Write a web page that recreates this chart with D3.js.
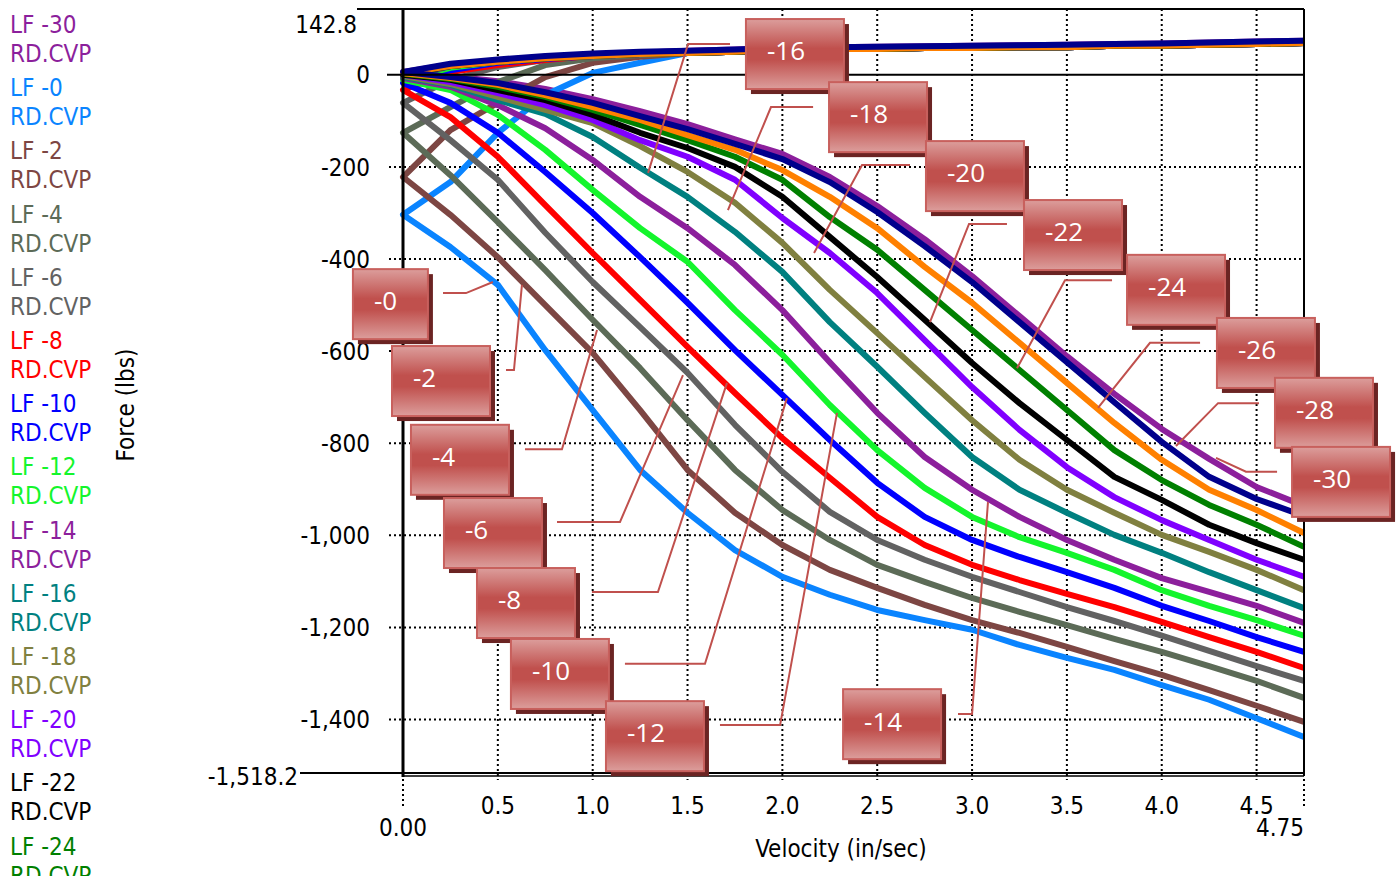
<!DOCTYPE html>
<html>
<head>
<meta charset="utf-8">
<script src="https://cdn.jsdelivr.net/npm/d3@7"></script>
<style>
  body { margin: 0; background: #fff; }
  svg text { font-family: "DejaVu Sans Condensed", "DejaVu Sans", sans-serif; font-stretch: condensed; }
</style>
</head>
<body>
<svg id="chart" width="1398" height="876"></svg>
<script>
// velocity steps (in/sec)
const velocity = [0, 0.25, 0.5, 0.75, 1.0, 1.25, 1.5, 1.75, 2.0, 2.25, 2.5, 2.75, 3.0, 3.25, 3.5, 3.75, 4.0, 4.25, 4.5, 4.75];

// upper (compression) branches share the same tail after 1.5 in/sec
const upperTail     = [47, 50, 54, 56, 56, 58, 58, 60, 60, 63, 63, 65, 67, 69];
const upperTailHigh = [52, 55, 58, 60, 61, 62, 63, 64, 65, 67, 68, 70, 72, 74];

// lower (rebound) branches, lbs
const lf0Lower  = [-304, -374, -456, -598, -728, -858, -951, -1032, -1090, -1129, -1162, -1184, -1205, -1238, -1266, -1292, -1325, -1357, -1397, -1438];
const lf2Lower  = [-222, -304, -396, -500, -604, -728, -858, -951, -1021, -1075, -1114, -1151, -1184, -1212, -1242, -1273, -1303, -1336, -1370, -1405];
const lf4Lower  = [-126, -218, -320, -424, -532, -637, -750, -858, -945, -1010, -1064, -1101, -1136, -1166, -1195, -1225, -1253, -1284, -1316, -1353];
const lf6Lower  = [-61, -142, -228, -343, -450, -548, -647, -760, -862, -949, -1010, -1053, -1090, -1123, -1156, -1186, -1218, -1251, -1284, -1316];
const lf8Lower  = [-33, -92, -178, -283, -387, -489, -591, -691, -789, -875, -960, -1021, -1064, -1097, -1127, -1156, -1188, -1221, -1253, -1288];
const lf10Lower = [-18, -61, -126, -211, -300, -396, -495, -598, -695, -793, -886, -960, -1010, -1047, -1080, -1114, -1153, -1186, -1221, -1253];
const lf12Lower = [-11, -33, -87, -163, -250, -333, -406, -511, -608, -717, -815, -897, -960, -1004, -1038, -1075, -1119, -1153, -1184, -1218];
const lf14Lower = [-7, -26, -66, -116, -185, -265, -333, -413, -511, -624, -734, -830, -901, -960, -1010, -1053, -1093, -1123, -1153, -1190];
const lf16Lower = [-5, -22, -55, -85, -135, -202, -265, -341, -428, -537, -634, -734, -830, -901, -951, -999, -1038, -1080, -1119, -1158];
const lf18Lower = [-3, -20, -48, -76, -105, -155, -211, -278, -365, -467, -561, -656, -750, -836, -901, -951, -999, -1036, -1075, -1119];
const lf20Lower = [0, -16, -40, -66, -98, -142, -178, -228, -311, -387, -474, -576, -678, -771, -852, -917, -967, -1010, -1053, -1090];
const lf22Lower = [0, -11, -33, -55, -87, -126, -159, -200, -265, -352, -439, -532, -626, -713, -793, -873, -923, -977, -1017, -1053];
const lf24Lower = [2, -9, -26, -48, -76, -109, -142, -178, -228, -309, -380, -467, -554, -641, -728, -815, -880, -934, -977, -1025];
const lf26Lower = [3, -7, -22, -44, -70, -98, -131, -163, -207, -265, -333, -417, -495, -582, -669, -756, -836, -901, -945, -995];
const lf28Lower = [6, -5, -18, -38, -61, -90, -118, -150, -183, -233, -298, -372, -450, -537, -624, -711, -797, -873, -921, -958];
const lf30Lower = [6, -3, -14, -31, -53, -79, -107, -140, -172, -222, -285, -357, -437, -524, -611, -693, -769, -834, -895, -936];

const lf0Upper  = [-304, -233, -126, -44, 4, 26, ...upperTail];
const lf2Upper  = [-222, -120, -61, -5, 26, 39, ...upperTail];
const lf4Upper  = [-126, -70, -16, 21, 36, 43, ...upperTail];
const lf6Upper  = [-61, -11, 17, 32, 41, 45, ...upperTail];
const lf8Upper  = [-33, 6, 21, 32, 41, 45, ...upperTail];
const lf10Upper = [-18, 10, 26, 34, 41, 45, ...upperTail];
const lf12Upper = [-11, 15, 28, 36, 41, 45, ...upperTail];
const lf14Upper = [-7, 19, 28, 36, 41, 45, ...upperTail];
const lf16Upper = [-5, 19, 28, 36, 41, 45, ...upperTail];
const lf18Upper = [-3, 19, 28, 36, 41, 45, ...upperTail];
const lf20Upper = [0, 19, 28, 36, 41, 45, ...upperTail];
const lf22Upper = [0, 19, 28, 36, 41, 45, ...upperTail];
const lf24Upper = [2, 19, 28, 36, 41, 45, ...upperTail];
const lf26Upper = [3, 19, 28, 36, 41, 45, ...upperTail];
const lf28Upper = [6, 24, 33, 41, 46, 50, ...upperTailHigh];
const lf30Upper = [6, 22, 31, 39, 44, 48, ...upperTailHigh];

// legend / drawing order
const seriesNames  = ["-30", "-0", "-2", "-4", "-6", "-8", "-10", "-12", "-14", "-16", "-18", "-20", "-22", "-24", "-26", "-28"];
const seriesColors = ["#8c1f9c", "#0a84ff", "#7d4643", "#5c6b57", "#626262", "#ff0000", "#0000ff", "#14f52c", "#8c1f9c", "#008080", "#808040", "#8000ff", "#000000", "#008000", "#ff8000", "#00008c"];
const seriesUpper  = [lf30Upper, lf0Upper, lf2Upper, lf4Upper, lf6Upper, lf8Upper, lf10Upper, lf12Upper, lf14Upper, lf16Upper, lf18Upper, lf20Upper, lf22Upper, lf24Upper, lf26Upper, lf28Upper];
const seriesLower  = [lf30Lower, lf0Lower, lf2Lower, lf4Lower, lf6Lower, lf8Lower, lf10Lower, lf12Lower, lf14Lower, lf16Lower, lf18Lower, lf20Lower, lf22Lower, lf24Lower, lf26Lower, lf28Lower];

const xTicks = [0.5, 1.0, 1.5, 2.0, 2.5, 3.0, 3.5, 4.0, 4.5];
const yTicks = [0, -200, -400, -600, -800, -1000, -1200, -1400];
const yMax = 142.8, yMin = -1518.2, xMax = 4.75;

// callout labels: text, box top-left (velocity, force), leader points (velocity, force)
const calloutText = ["-0", "-2", "-4", "-6", "-8", "-10", "-12", "-14", "-16", "-18", "-20", "-22", "-24", "-26", "-28", "-30"];
const calloutBox = [[-0.264, -422], [-0.058, -589], [0.042, -760], [0.216, -919], [0.390, -1071], [0.569, -1225], [1.070, -1360], [2.320, -1334],
                    [1.808, 121], [2.246, -16], [2.757, -144], [3.274, -272], [3.817, -391], [4.291, -528], [4.597, -658], [4.687, -808]];
const calloutLeader = [
  [[0.211, -474], [0.332, -474], [0.474, -450]],
  [[0.543, -641], [0.585, -641], [0.627, -456]],
  [[0.643, -813], [0.838, -813], [1.023, -554]],
  [[0.812, -971], [1.144, -971], [1.476, -652]],
  [[0.996, -1123], [1.344, -1123], [1.708, -669]],
  [[1.170, -1279], [1.592, -1279], [2.024, -702]],
  [[1.671, -1412], [1.988, -1412], [2.288, -734]],
  [[2.926, -1388], [3.000, -1388], [3.084, -928]],
  [[1.724, 67], [1.503, 67], [1.292, -213]],
  [[2.162, -70], [1.940, -70], [1.713, -294]],
  [[2.673, -196], [2.420, -196], [2.167, -387]],
  [[3.184, -324], [2.984, -324], [2.778, -537]],
  [[3.738, -446], [3.490, -446], [3.237, -637]],
  [[4.202, -582], [3.938, -582], [3.664, -723]],
  [[4.513, -713], [4.297, -713], [4.075, -806]],
  [[4.608, -862], [4.444, -862], [4.286, -832]]
];

const svg = d3.select("#chart");
const x = d3.scaleLinear().domain([0, xMax]).range([403, 1304]);
const y = d3.scaleLinear().domain([yMin, yMax]).range([774, 9]);

const defs = svg.append("defs");
const grad = defs.append("linearGradient").attr("id", "boxGrad").attr("x1", 0).attr("y1", 0).attr("x2", 0).attr("y2", 1);
grad.append("stop").attr("offset", "0%").attr("stop-color", "#dc9e9c");
grad.append("stop").attr("offset", "42%").attr("stop-color", "#c0504d");
grad.append("stop").attr("offset", "58%").attr("stop-color", "#c0504d");
grad.append("stop").attr("offset", "100%").attr("stop-color", "#dc9e9c");

// dotted grid
const dots = "2,3";
svg.append("g").selectAll("line").data(xTicks).enter().append("line")
  .attr("x1", d => x(d)).attr("x2", d => x(d))
  .attr("y1", y(yMax)).attr("y2", y(yMin) + 6)
  .attr("stroke", "#000").attr("stroke-width", 2).attr("stroke-dasharray", dots);
svg.append("g").selectAll("line").data(yTicks.slice(1)).enter().append("line")
  .attr("x1", x(0) - 14).attr("x2", x(xMax))
  .attr("y1", d => y(d)).attr("y2", d => y(d))
  .attr("stroke", "#000").attr("stroke-width", 2).attr("stroke-dasharray", dots);
svg.append("g").selectAll("line").data([0, xMax]).enter().append("line")
  .attr("x1", d => x(d)).attr("x2", d => x(d))
  .attr("y1", y(yMin)).attr("y2", y(yMin) + 32)
  .attr("stroke", "#000").attr("stroke-width", 2).attr("stroke-dasharray", dots);

// curves
const line = d3.line().x(d => x(d[0])).y(d => y(d[1])).curve(d3.curveLinear);
seriesNames.forEach((name, i) => {
  const up = velocity.map((v, k) => [v, seriesUpper[i][k]]).reverse();
  const lo = velocity.map((v, k) => [v, seriesLower[i][k]]).slice(1);
  svg.append("path")
    .datum(up.concat(lo))
    .attr("d", line)
    .attr("fill", "none")
    .attr("stroke", seriesColors[i])
    .attr("stroke-width", 6)
    .attr("stroke-linejoin", "round");
});

// frame and axes
const ax = svg.append("g").attr("stroke", "#000");
ax.append("line").attr("x1", 357).attr("x2", x(xMax)).attr("y1", y(yMax)).attr("y2", y(yMax)).attr("stroke-width", 2);
ax.append("line").attr("x1", x(xMax)).attr("x2", x(xMax)).attr("y1", y(yMax)).attr("y2", y(yMin)).attr("stroke-width", 2);
ax.append("line").attr("x1", 387).attr("x2", x(xMax)).attr("y1", y(0)).attr("y2", y(0)).attr("stroke-width", 2);
ax.append("line").attr("x1", 300).attr("x2", x(xMax)).attr("y1", y(yMin) - 1).attr("y2", y(yMin) - 1).attr("stroke-width", 2);
ax.append("line").attr("x1", x(0)).attr("x2", x(xMax)).attr("y1", y(yMin) + 2).attr("y2", y(yMin) + 2).attr("stroke-width", 1.5);
ax.append("line").attr("x1", x(0)).attr("x2", x(0)).attr("y1", y(yMax)).attr("y2", y(yMin) + 3).attr("stroke-width", 3);

// y tick labels (plain hyphen minus, as in the original)
const fmt = v => d3.format(",")(v).replace("\u2212", "-");
svg.append("g").selectAll("text").data(yTicks).enter().append("text")
  .attr("x", 370).attr("y", d => y(d)).attr("dy", "0.36em")
  .attr("text-anchor", "end").attr("font-size", 24)
  .text(d => fmt(d));
svg.append("text").attr("x", 357).attr("y", y(yMax) + 15).attr("dy", "0.36em")
  .attr("text-anchor", "end").attr("font-size", 24).text(fmt(yMax));
svg.append("text").attr("x", 298).attr("y", y(yMin) + 2).attr("dy", "0.36em")
  .attr("text-anchor", "end").attr("font-size", 24).text(fmt(yMin));

// x tick labels
svg.append("g").selectAll("text").data(xTicks).enter().append("text")
  .attr("x", d => x(d)).attr("y", 805).attr("dy", "0.36em")
  .attr("text-anchor", "middle").attr("font-size", 24)
  .text(d => d.toFixed(1));
svg.append("text").attr("x", x(0)).attr("y", 827).attr("dy", "0.36em")
  .attr("text-anchor", "middle").attr("font-size", 24).text("0.00");
svg.append("text").attr("x", x(xMax)).attr("y", 827).attr("dy", "0.36em")
  .attr("text-anchor", "end").attr("font-size", 24).text(xMax.toFixed(2));

// axis titles
svg.append("text").attr("x", 841).attr("y", 848).attr("dy", "0.36em")
  .attr("text-anchor", "middle").attr("font-size", 24).text("Velocity (in/sec)");
svg.append("text").attr("transform", "translate(125,405) rotate(-90)").attr("dy", "0.36em")
  .attr("text-anchor", "middle").attr("font-size", 24).text("Force (lbs)");

// callouts
const leader = d3.line().x(d => x(d[0])).y(d => y(d[1]));
const call = svg.append("g");
calloutText.forEach((t, i) => {
  const bx = x(calloutBox[i][0]), by = y(calloutBox[i][1]);
  const w = t === "-0" ? 75 : 98, h = 70;
  call.append("path").attr("d", leader(calloutLeader[i]))
    .attr("fill", "none").attr("stroke", "#c0504d").attr("stroke-width", 2);
  call.append("rect").attr("x", bx + 5).attr("y", by + 5).attr("width", w).attr("height", h).attr("fill", "#6b2423");
  call.append("rect").attr("x", bx).attr("y", by).attr("width", w).attr("height", h)
    .attr("fill", "url(#boxGrad)").attr("stroke", "#c8605d").attr("stroke-width", 2);
  call.append("text").attr("x", bx + 21).attr("y", by + 32).attr("dy", "0.36em")
    .attr("fill", "#fff").attr("font-size", 26)
    .style("font-family", "'Open Sans', sans-serif").style("font-stretch", "normal")
    .text(t);
});

// legend
const legend = svg.append("g");
seriesNames.forEach((name, i) => {
  legend.append("text").attr("x", 10).attr("y", 33 + i * 63.2).attr("font-size", 24)
    .attr("fill", seriesColors[i]).text("LF " + name);
  legend.append("text").attr("x", 10).attr("y", 62 + i * 63.2).attr("font-size", 24)
    .attr("fill", seriesColors[i]).text("RD.CVP");
});
</script>
</body>
</html>
